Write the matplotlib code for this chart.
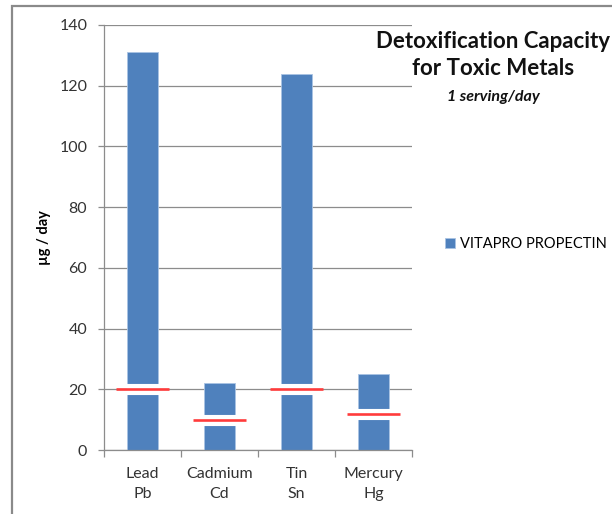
import matplotlib
matplotlib.use("Agg")
import matplotlib.pyplot as plt
from matplotlib.patches import Rectangle
import numpy as np

plt.rcParams["font.family"] = ["Lato", "DejaVu Sans"]

metals = ["Lead\nPb", "Cadmium\nCd", "Tin\nSn", "Mercury\nHg"]
capacity = [131, 22, 124, 25]
limits = [20, 10, 20, 12]
series_name = "VITAPRO PROPECTIN"
y_ticks = [0, 20, 40, 60, 80, 100, 120, 140]

BLUE = "#4F81BD"
RED = "#FF3B3B"
GRID = "#8C8C8C"

fig = plt.figure(figsize=(6.12, 5.14), dpi=100)
ax = fig.add_axes([104 / 612, 64 / 514, 308 / 612, 425 / 514])

x = np.arange(len(metals))
ax.bar(x, capacity, width=0.39, color=BLUE, edgecolor="#A9C3E3",
       linewidth=0.6, label=series_name, zorder=2)

# white gap around each limit line, then the red line itself
ax.hlines(limits, x - 0.215, x + 0.215, colors="white", linewidth=8, zorder=3)
ax.hlines(limits, x - 0.345, x + 0.345, colors=RED, linewidth=1.9, zorder=4)

ax.set_xlim(-0.5, len(metals) - 0.5)
ax.set_ylim(0, 140)
ax.set_yticks(y_ticks)
ax.yaxis.grid(True, color=GRID, linewidth=0.9, zorder=0)
ax.set_axisbelow(True)

ax.set_xticks(x)
ax.set_xticklabels(metals, fontsize=11.5, color="#333333", linespacing=1.55)
ax.set_xticks(np.arange(-0.5, len(metals)), minor=True)
ax.tick_params(axis="x", which="major", length=0, pad=12)
ax.tick_params(axis="x", which="minor", length=5, color=GRID, width=0.9)
ax.tick_params(axis="y", length=4, color=GRID, width=0.9, labelsize=11.5,
               labelcolor="#333333", pad=8)

for side in ["top", "right"]:
    ax.spines[side].set_visible(False)
for side in ["left", "bottom"]:
    ax.spines[side].set_color(GRID)
    ax.spines[side].set_linewidth(0.9)

ax.set_ylabel("µg / day", fontsize=10.5, fontweight="bold", labelpad=6)

fig.text(493 / 612, 1 - 55 / 514, "Detoxification Capacity\nfor Toxic Metals",
         ha="center", va="center", fontsize=16, fontweight="bold",
         linespacing=1.3, color="#111111",
         bbox=dict(facecolor="white", edgecolor="none", pad=2))
fig.text(493 / 612, 1 - 97 / 514, "1 serving/day", ha="center", va="center",
         fontsize=11.5, fontweight="bold", fontstyle="italic", color="#111111")

ax.legend(loc="center left", bbox_to_anchor=(1.065, 0.485), frameon=False,
          fontsize=10.5, handlelength=0.65, handleheight=0.65, handletextpad=0.35)

# outer chart frame (cropped on the right and bottom)
fig.add_artist(Rectangle((12 / 612, -0.1), 1.2, 1.1 - 6 / 514,
                         transform=fig.transFigure, fill=False,
                         edgecolor="#8A8A8A", linewidth=1.6))

fig.savefig("out.png", dpi=100)
